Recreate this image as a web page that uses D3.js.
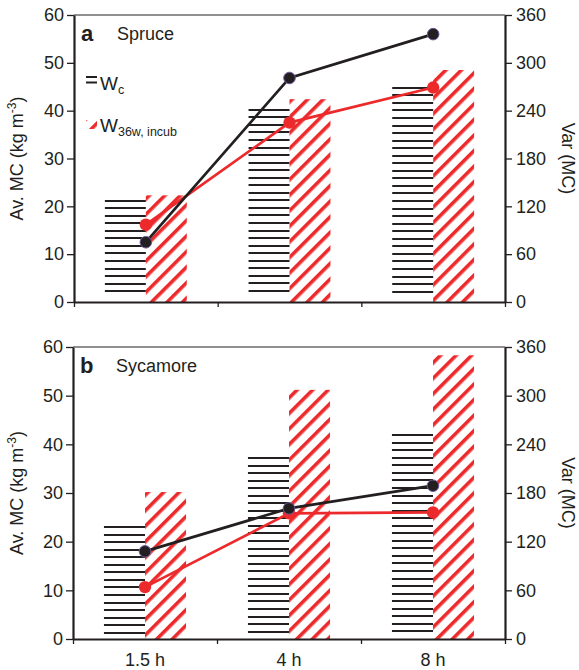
<!DOCTYPE html>
<html><head><meta charset="utf-8">
<script src="https://cdn.jsdelivr.net/npm/d3@7"></script>
<style>
html,body{margin:0;padding:0;background:#fff;}
svg{display:block;font-family:"Liberation Sans",Arial,Helvetica,sans-serif;}
</style></head>
<body><svg id="chart" width="579" height="670"></svg>
<script>
// ---- data ----
const categories = ["1.5 h", "4 h", "8 h"];
const leftTicks = [0, 10, 20, 30, 40, 50, 60];
const rightTicks = [0, 60, 120, 180, 240, 300, 360];
// Panel a: Spruce
const spruceWc = [21.4, 40.4, 45.0];
const spruceW36 = [22.3, 42.4, 48.5];
const spruceVarWc = [75, 281, 336];
const spruceVarW36 = [97, 225, 269];
// Panel b: Sycamore
const sycWc = [23.2, 37.4, 42.1];
const sycW36 = [30.2, 51.2, 58.3];
const sycVarWc = [108, 161, 189];
const sycVarW36 = [64, 155, 156];

const BLACK = "#231f20", RED = "#ec2a2c";
const svg = d3.select("#chart");
const defs = svg.append("defs");

// diagonal red hatch
const hp = defs.append("pattern").attr("id", "redHatch")
  .attr("patternUnits", "userSpaceOnUse").attr("width", 11).attr("height", 11)
  .attr("patternTransform", "rotate(45)");
hp.append("rect").attr("x", 0).attr("y", 0).attr("width", 3.6).attr("height", 11).attr("fill", RED);

const panels = [
  {id: "a", name: "Spruce", top: 15, bottom: 302, left: 74, right: 505, wc: spruceWc, w36: spruceW36, vwc: spruceVarWc, vw36: spruceVarW36, legend: true, xlabels: false},
  {id: "b", name: "Sycamore", top: 347, bottom: 639, left: 73, right: 505, wc: sycWc, w36: sycW36, vwc: sycVarWc, vw36: sycVarW36, legend: false, xlabels: true}
];

const FS = 18;

panels.forEach((p, pi) => {
  const g = svg.append("g");
  const x = d3.scaleBand().domain(categories).range([p.left, p.right]).padding(0);
  const xEdge = d3.scaleLinear().domain([0, categories.length]).range([p.left, p.right]);
  const yL = d3.scaleLinear().domain([0, 60]).range([p.bottom, p.top]);
  const yR = d3.scaleLinear().domain([0, 360]).range([p.bottom, p.top]);
  const cx = c => x(c) + x.bandwidth() / 2;
  const bw = x.bandwidth() * 0.285;

  // black horizontal-line bars
  categories.forEach((c, i) => {
    const yTop = yL(p.wc[i]);
    const ys = d3.range(yTop + 1, p.bottom - 5, 7.55).map(v => Math.round(v));
    g.selectAll(null).data(ys).enter().append("line")
      .attr("x1", cx(c) - bw).attr("x2", cx(c))
      .attr("y1", d => d).attr("y2", d => d)
      .attr("stroke", BLACK).attr("stroke-width", 2);
  });
  // red hatched bars
  g.selectAll(null).data(categories).enter().append("rect")
    .attr("x", c => cx(c)).attr("width", bw)
    .attr("y", (c, i) => yL(p.w36[i]))
    .attr("height", (c, i) => p.bottom - yL(p.w36[i]))
    .attr("fill", "url(#redHatch)");

  // frame top line
  g.append("line").attr("x1", p.left).attr("x2", p.right).attr("y1", p.top).attr("y2", p.top)
    .attr("stroke", BLACK).attr("stroke-width", 1);

  // left axis
  const la = g.append("g").attr("transform", `translate(${p.left},0)`)
    .call(d3.axisLeft(yL).tickValues(leftTicks).tickSize(7).tickSizeOuter(0).tickPadding(3));
  la.select(".domain").attr("stroke", BLACK).attr("stroke-width", 2.2);
  la.selectAll(".tick line").attr("stroke", BLACK).attr("stroke-width", 1.3);
  la.selectAll(".tick text").attr("font-size", FS).attr("fill", BLACK).attr("font-family", "Liberation Sans, Arial, sans-serif");

  // right axis
  const ra = g.append("g").attr("transform", `translate(${p.right},0)`)
    .call(d3.axisRight(yR).tickValues(rightTicks).tickSize(7).tickSizeOuter(0).tickPadding(4));
  ra.select(".domain").attr("stroke", BLACK).attr("stroke-width", 2.2);
  ra.selectAll(".tick line").attr("stroke", BLACK).attr("stroke-width", 1.3);
  ra.selectAll(".tick text").attr("font-size", FS).attr("fill", BLACK).attr("font-family", "Liberation Sans, Arial, sans-serif");

  // bottom axis
  const ba = g.append("g").attr("transform", `translate(0,${p.bottom})`)
    .call(d3.axisBottom(xEdge).tickValues(d3.range(categories.length + 1)).tickFormat("").tickSize(5).tickSizeOuter(0));
  ba.select(".domain").attr("stroke", BLACK).attr("stroke-width", 2.2);
  ba.selectAll(".tick line").attr("stroke", BLACK).attr("stroke-width", 1.3);

  if (p.xlabels) {
    g.selectAll(null).data(categories).enter().append("text")
      .attr("x", c => cx(c)).attr("y", p.bottom + 27)
      .attr("text-anchor", "middle").attr("font-size", FS).attr("fill", BLACK).text(c => c);
  }

  // axis titles
  const midY = (p.top + p.bottom) / 2;
  const lt = g.append("text").attr("transform", `translate(23,${midY}) rotate(-90)`)
    .attr("text-anchor", "middle").attr("font-size", FS).attr("fill", BLACK);
  lt.append("tspan").text("Av. MC (kg m");
  lt.append("tspan").attr("dy", -7).attr("font-size", 12).text("-3");
  lt.append("tspan").attr("dy", 7).text(")");
  g.append("text").attr("transform", `translate(562,${midY}) rotate(90)`)
    .attr("text-anchor", "middle").attr("font-size", FS).attr("fill", BLACK).text("Var (MC)");

  // panel labels
  g.append("text").attr("x", p.left + 7).attr("y", p.top + 26).attr("font-size", 22)
    .attr("font-weight", "bold").attr("fill", BLACK).text(p.id);
  g.append("text").attr("x", p.left + 43).attr("y", p.top + 25).attr("font-size", FS)
    .attr("fill", BLACK).text(p.name);

  // lines and dots (right axis)
  const line = d3.line().x((d, i) => cx(categories[i])).y(d => yR(d));
  g.append("path").datum(p.vw36).attr("d", line).attr("fill", "none").attr("stroke", RED).attr("stroke-width", 2.7);
  g.selectAll(null).data(p.vw36).enter().append("circle")
    .attr("cx", (d, i) => cx(categories[i])).attr("cy", d => yR(d)).attr("r", 6.2).attr("fill", RED);
  g.append("path").datum(p.vwc).attr("d", line).attr("fill", "none").attr("stroke", BLACK).attr("stroke-width", 2.7);
  g.selectAll(null).data(p.vwc).enter().append("circle")
    .attr("cx", (d, i) => cx(categories[i])).attr("cy", d => yR(d)).attr("r", 5.8)
    .attr("fill", BLACK).attr("stroke", "#6a5a9a").attr("stroke-width", 1);

  if (p.legend) {
    const lx = p.left + 12;
    // "=" symbol
    [77, 82.5].forEach(yy => g.append("line").attr("x1", lx).attr("x2", lx + 11).attr("y1", yy).attr("y2", yy)
      .attr("stroke", BLACK).attr("stroke-width", 2));
    const t1 = g.append("text").attr("x", lx + 14).attr("y", 90).attr("font-size", 19).attr("fill", BLACK);
    t1.append("tspan").text("W");
    t1.append("tspan").attr("dy", 4).attr("font-size", 12.5).text("c");
    // red hatch symbol
    g.append("rect").attr("x", lx).attr("y", 120).attr("width", 11).attr("height", 9).attr("fill", "url(#redHatch)");
    const t2 = g.append("text").attr("x", lx + 14).attr("y", 132).attr("font-size", 19).attr("fill", BLACK);
    t2.append("tspan").text("W");
    t2.append("tspan").attr("dy", 4).attr("font-size", 12.5).text("36w, incub");
  }
});
</script></body></html>
